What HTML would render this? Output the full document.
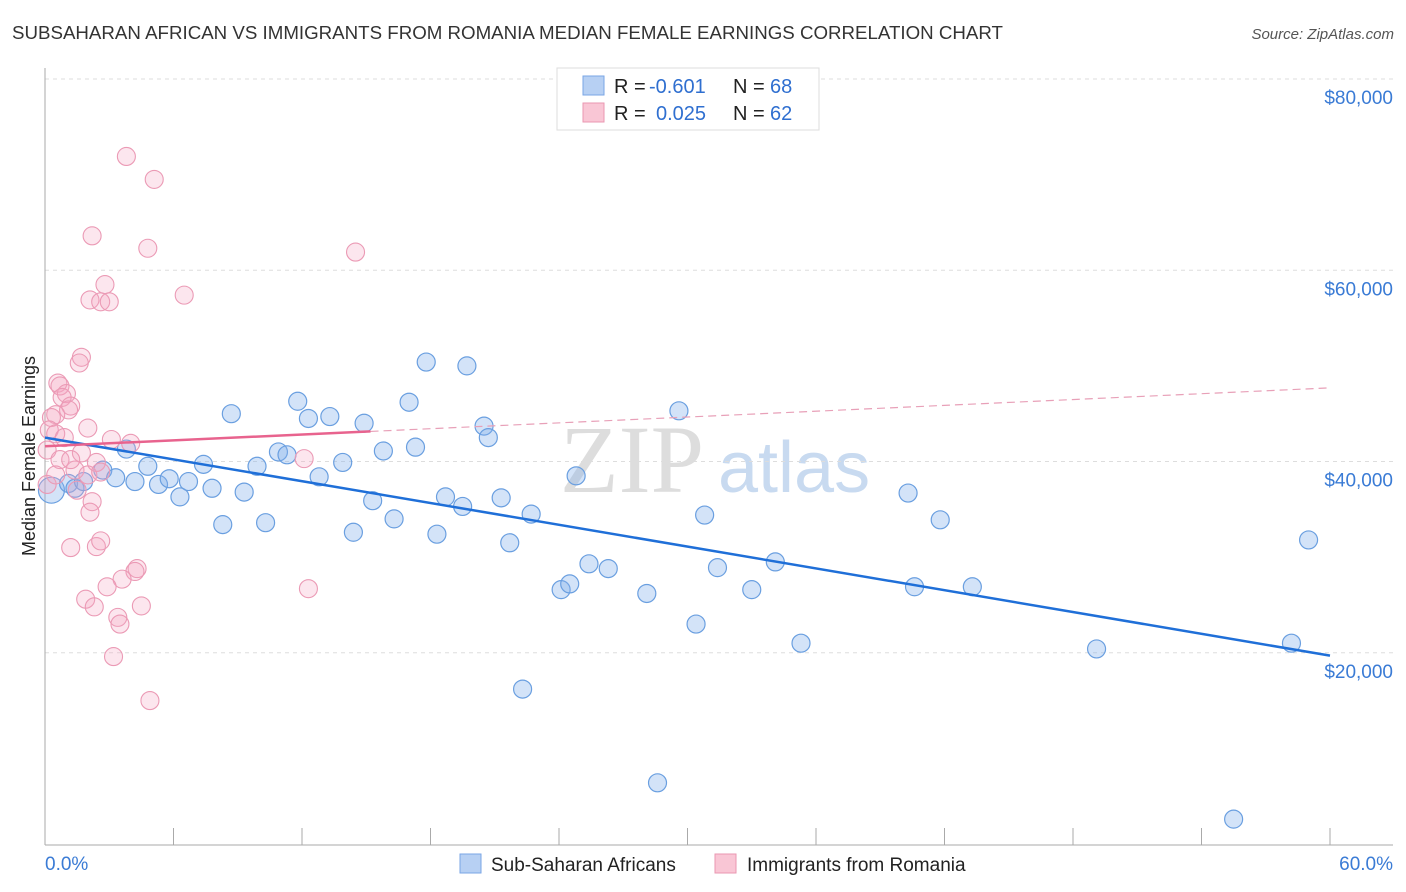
<!DOCTYPE html>
<html><head><meta charset="utf-8"><style>
body{margin:0;background:#fff;font-family:"Liberation Sans",sans-serif}
svg{display:block}
</style></head><body>
<svg id="chart" width="1406" height="892">
<text x="12" y="39" font-size="18" fill="#333" textLength="991" lengthAdjust="spacingAndGlyphs">SUBSAHARAN AFRICAN VS IMMIGRANTS FROM ROMANIA MEDIAN FEMALE EARNINGS CORRELATION CHART</text>
<text x="1394" y="39" font-size="15" fill="#555" font-style="italic" text-anchor="end">Source: ZipAtlas.com</text>
<text x="560" y="492" font-size="96" fill="#ddd" font-family="Liberation Serif">ZIP</text>
<text x="718" y="492" font-size="72" fill="#c8daf0">atlas</text>
<text transform="translate(35,456) rotate(-90)" font-size="18" fill="#222" text-anchor="middle">Median Female Earnings</text>
<g id="grid"></g><g id="pts"></g><g id="trend"></g>
<g>
<rect x="557" y="68" width="262" height="62" fill="#fff" stroke="#ddd"/>
<rect x="583" y="76" width="21" height="19" fill="#b7d0f3" stroke="#7aa6e6"/>
<rect x="583" y="103" width="21" height="19" fill="#f9c6d5" stroke="#ea97b1"/>
<text x="614" y="93" font-size="20" fill="#222">R =</text>
<text x="649" y="93" font-size="20" fill="#2f6fd0">-0.601</text>
<text x="733" y="93" font-size="20" fill="#222">N =</text>
<text x="770" y="93" font-size="20" fill="#2f6fd0">68</text>
<text x="614" y="120" font-size="20" fill="#222">R =</text>
<text x="656" y="120" font-size="20" fill="#2f6fd0">0.025</text>
<text x="733" y="120" font-size="20" fill="#222">N =</text>
<text x="770" y="120" font-size="20" fill="#2f6fd0">62</text>
</g>
<g>
<rect x="460" y="854" width="21" height="19" fill="#b7d0f3" stroke="#7aa6e6"/>
<text x="491" y="871" font-size="19" fill="#222">Sub-Saharan Africans</text>
<rect x="715" y="854" width="21" height="19" fill="#f9c6d5" stroke="#ea97b1"/>
<text x="747" y="871" font-size="19" fill="#222">Immigrants from Romania</text>
</g>
<text x="45" y="870" font-size="19" fill="#3a7bd5">0.0%</text>
<text x="1393" y="870" font-size="19" fill="#3a7bd5" text-anchor="end">60.0%</text>
</svg>
<script>
const yTicks=[20000,40000,60000,80000];
const yTickLabels=["$20,000","$40,000","$60,000","$80,000"];
const blueX=[0.3,1.1,1.4,1.8,2.7,3.3,3.8,4.2,4.8,5.3,5.8,6.3,6.7,7.4,7.8,8.3,8.7,9.3,9.9,10.3,10.9,11.3,11.8,12.3,12.8,13.3,13.9,14.4,14.9,15.3,15.8,16.3,17.0,17.3,17.8,18.3,18.7,19.5,19.7,20.5,20.7,21.3,21.7,22.3,22.7,24.1,24.5,24.8,25.4,26.3,28.1,28.6,29.6,30.4,30.8,31.4,33.0,34.1,35.3,40.3,40.6,41.8,43.3,49.1,55.5,58.2,59.0];
const blueY=[37.0,37.7,37.2,37.9,39.1,38.3,41.3,37.9,39.5,37.6,38.2,36.3,37.9,39.7,37.2,33.4,45.0,36.8,39.5,33.6,41.0,40.7,46.3,44.5,38.4,44.7,39.9,32.6,44.0,35.9,41.1,34.0,46.2,41.5,50.4,32.4,36.3,35.3,50.0,43.7,42.5,36.2,31.5,16.2,34.5,26.6,27.2,38.5,29.3,28.8,26.2,6.4,45.3,23.0,34.4,28.9,26.6,29.5,21.0,36.7,26.9,33.9,26.9,20.4,2.6,21.0,31.8];
const pinkX=[3.8,5.1,2.2,4.8,14.5,2.8,2.1,2.6,3.0,6.5,1.7,1.6,0.6,0.7,1.0,0.8,1.2,1.1,0.5,0.3,0.2,0.5,0.9,2.0,3.1,4.0,0.1,1.7,2.4,1.4,2.0,2.6,0.1,1.5,2.2,2.1,1.2,2.4,2.6,12.1,12.3,4.3,4.2,3.6,2.9,1.9,2.3,4.5,3.4,3.5,3.2,4.9,0.7,1.2,0.5];
const pinkY=[71.9,69.5,63.6,62.3,61.9,58.5,56.9,56.7,56.7,57.4,50.9,50.3,48.2,47.9,47.1,46.7,45.8,45.4,44.9,44.6,43.3,42.9,42.5,43.5,42.3,41.9,41.2,40.9,39.9,39.1,38.6,38.9,37.6,37.0,35.8,34.7,31.0,31.1,31.7,40.3,26.7,28.8,28.5,27.7,26.9,25.6,24.8,24.9,23.7,23.0,19.6,15.0,40.2,40.2,38.6];
const blueTrend=[42.5,19.7];
const pinkTrend=[41.6,47.7];
const pinkSolidEnd=15.2;
const X=v=>45+v/60*1285, Y=v=>844-v*1000/20000*191.25;
const NS="http://www.w3.org/2000/svg";
function mk(p,t,a){const e=document.createElementNS(NS,t);for(const k in a)e.setAttribute(k,a[k]);p.appendChild(e);return e;}
const g=document.getElementById('grid');
yTicks.forEach((t,i)=>{
 const l=mk(g,'line',{x1:45,x2:1393,y1:Y(t/1000),y2:Y(t/1000),stroke:'#ddd','stroke-dasharray':'4,4'});
 
 
 const tx=mk(g,'text',{x:1393,y:Y(t/1000)+25,'font-size':19,fill:'#3a7bd5','text-anchor':'end'});
 tx.textContent=yTickLabels[i];
 
 
});
mk(g,'line',{x1:45,x2:45,y1:68,y2:845,stroke:'#aaa'});
mk(g,'line',{x1:45,x2:1393,y1:845,y2:845,stroke:'#aaa'});
for(let i=0;i<=10;i++){const t=mk(g,'line',{x1:X(i*6),x2:X(i*6),y1:828,y2:845,stroke:'#aaa'});
 
 }
const p=document.getElementById('pts');
blueX.forEach((x,i)=>{const c=mk(p,'circle',{cx:X(x),cy:Y(blueY[i]),r:i==0?13:9,fill:'rgba(130,175,235,0.35)',stroke:'#6a9fe0','stroke-width':1.2});
 
 });
pinkX.forEach((x,i)=>{const c=mk(p,'circle',{cx:X(x),cy:Y(pinkY[i]),r:9,fill:'rgba(245,165,195,0.28)',stroke:'#eb9ab5','stroke-width':1.1});
 
 });
const tr=document.getElementById('trend');
const bl=mk(tr,'line',{x1:X(0),y1:Y(blueTrend[0]),x2:X(60),y2:Y(blueTrend[1]),stroke:'#1f6fd8','stroke-width':2.5});


const py=x=>pinkTrend[0]+(pinkTrend[1]-pinkTrend[0])*x/60;
const pl=mk(tr,'line',{x1:X(0),y1:Y(py(0)),x2:X(pinkSolidEnd),y2:Y(py(pinkSolidEnd)),stroke:'#e8638e','stroke-width':2.5});


const pd=mk(tr,'line',{x1:X(pinkSolidEnd),y1:Y(py(pinkSolidEnd)),x2:X(60),y2:Y(py(60)),stroke:'#e8a0b8','stroke-width':1.2,'stroke-dasharray':'8,5'});


</script>
</body></html>
